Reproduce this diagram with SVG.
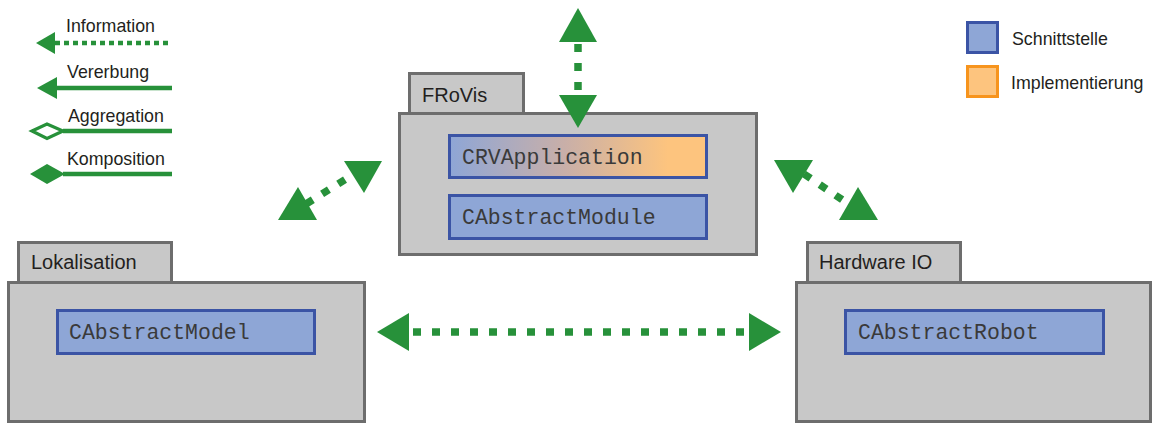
<svg xmlns="http://www.w3.org/2000/svg" width="1154" height="423" viewBox="0 0 1154 423">
  <defs>
    <linearGradient id="implGrad" x1="0" y1="0" x2="1" y2="0">
      <stop offset="0" stop-color="#8ea6d6"/>
      <stop offset="0.45" stop-color="#c9afa8"/>
      <stop offset="0.85" stop-color="#fdc47e"/>
      <stop offset="1" stop-color="#fdc47e"/>
    </linearGradient>
    <style>
      .label { font-family: "Liberation Sans", Arial, sans-serif; fill: #231f20; }
      .legend { font-size: 17.8px; }
      .pkg-name { font-size: 20px; }
      .code { font-family: "Liberation Mono", "Courier New", monospace; font-size: 21.5px; fill: #3a3a3a; }
      .pkg { fill: #c8c8c8; stroke: #6d6d6d; stroke-width: 3; }
      .iface { fill: #8ea6d6; stroke: #3b54a5; stroke-width: 3; }
      .impl { fill: #fdc47e; stroke: #f7941d; stroke-width: 3; }
      .mixed { fill: url(#implGrad); stroke: #3b54a5; stroke-width: 3; }
      .head { fill: #27913a; stroke: none; }
      .dots { stroke: #27913a; stroke-width: 7.5; stroke-dasharray: 8 11; fill: none; }
      .dots-small { stroke: #27913a; stroke-width: 4.5; stroke-dasharray: 5 4; fill: none; }
      .solid { stroke: #27913a; stroke-width: 4.5; fill: none; }
    </style>
  </defs>

  <!-- Legend: connector types -->
  <g id="legend-connectors">
    <text class="label legend" x="66" y="32">Information</text>
    <line class="dots-small" x1="55" y1="43" x2="172" y2="43"/>
    <polygon class="head" points="36,43 55,32 55,54"/>

    <text class="label legend" x="67" y="78">Vererbung</text>
    <line class="solid" x1="56" y1="88" x2="172" y2="88"/>
    <polygon class="head" points="37,88 57,77 57,99"/>

    <text class="label legend" x="68" y="122">Aggregation</text>
    <line class="solid" x1="63" y1="131" x2="172" y2="131"/>
    <polygon points="32,131 47,124 63,131 47,138.5" fill="#ffffff" stroke="#27913a" stroke-width="3.2"/>

    <text class="label legend" x="67" y="165">Komposition</text>
    <line class="solid" x1="63" y1="174" x2="172" y2="174"/>
    <polygon class="head" points="30,174 47,164 65,174 47,184"/>
  </g>

  <!-- Legend: element types -->
  <g id="legend-elements">
    <rect class="iface" x="967.5" y="22.5" width="30" height="30"/>
    <text class="label legend" x="1012" y="45">Schnittstelle</text>
    <rect class="impl" x="967.5" y="66.5" width="30" height="30"/>
    <text class="label legend" x="1011" y="89">Implementierung</text>
  </g>

  <!-- Package FRoVis -->
  <g id="pkg-frovis">
    <rect class="pkg" x="409.5" y="73.5" width="114" height="40"/>
    <rect class="pkg" x="399.5" y="113.5" width="357" height="141"/>
    <text class="label pkg-name" x="422" y="102">FRoVis</text>
  </g>
  <g id="crvapplication">
    <rect class="mixed" x="449.5" y="135.5" width="257" height="42"/>
    <text class="code" x="462" y="164">CRVApplication</text>
  </g>
  <g id="cabstractmodule">
    <rect class="iface" x="449.5" y="195.5" width="257" height="43"/>
    <text class="code" x="462" y="224">CAbstractModule</text>
  </g>

  <!-- Package Lokalisation -->
  <g id="pkg-lokalisation">
    <rect class="pkg" x="18.5" y="242.5" width="153" height="40"/>
    <rect class="pkg" x="8.5" y="282.5" width="356" height="139"/>
    <text class="label pkg-name" x="31" y="269">Lokalisation</text>
  </g>
  <g id="cabstractmodel">
    <rect class="iface" x="57.5" y="310.5" width="257" height="43"/>
    <text class="code" x="69" y="339">CAbstractModel</text>
  </g>

  <!-- Package Hardware IO -->
  <g id="pkg-hardware-io">
    <rect class="pkg" x="807.5" y="242.5" width="153" height="40"/>
    <rect class="pkg" x="796.5" y="282.5" width="354" height="139"/>
    <text class="label pkg-name" x="819" y="269">Hardware IO</text>
  </g>
  <g id="cabstractrobot">
    <rect class="iface" x="845.5" y="310.5" width="258" height="43"/>
    <text class="code" x="858" y="339">CAbstractRobot</text>
  </g>

  <!-- Information flows -->
  <g id="connectors">
    <!-- outside world <-> FRoVis -->
    <line class="dots" x1="578" y1="42" x2="578" y2="96" stroke-dashoffset="-2"/>
    <polygon class="head" points="578,8 559,42 597,42"/>
    <polygon class="head" points="578,128 559,95 597,95"/>

    <!-- Lokalisation <-> FRoVis -->
    <line class="dots" x1="306" y1="204" x2="354" y2="174"/>
    <polygon class="head" points="298,187 278,220 317,220"/>
    <polygon class="head" points="364,193 344,161 382,161"/>

    <!-- FRoVis <-> Hardware IO -->
    <line class="dots" x1="804" y1="174" x2="850" y2="205"/>
    <polygon class="head" points="793,193 774,160 813,160"/>
    <polygon class="head" points="858,187 839,220 878,220"/>

    <!-- Lokalisation <-> Hardware IO -->
    <line class="dots" x1="409" y1="332" x2="749" y2="332" stroke-dashoffset="-4"/>
    <polygon class="head" points="377,332 409,313 409,351"/>
    <polygon class="head" points="781,332 749,313 749,351"/>
  </g>
</svg>
